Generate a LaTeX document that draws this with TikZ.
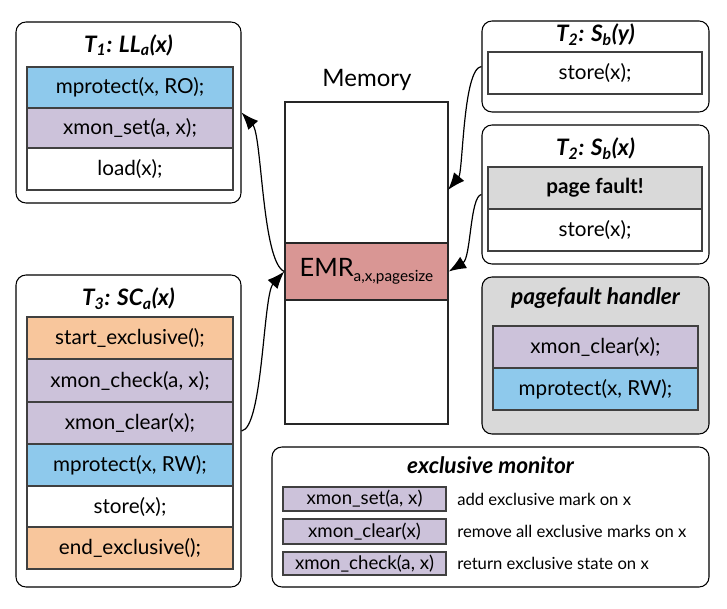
\documentclass[tikz,border=0pt]{standalone}
\usepackage{fontspec}
\setmainfont{Lato}
\usetikzlibrary{arrows.meta}
\definecolor{cblue}{RGB}{142,201,236}
\definecolor{clilac}{RGB}{204,194,218}
\definecolor{corange}{RGB}{248,198,156}
\definecolor{cgray}{RGB}{217,217,217}
\definecolor{cemr}{RGB}{217,150,148}
\tikzset{
  wh/.style 2 args={minimum width={#1*0.75pt}, minimum height={#2*0.75pt}},
  outer/.style={draw=black, rounded corners=7.5pt, line width=0.8pt, inner sep=0pt, fill=white},
  row/.style={draw=black!75, line width=0.8pt, inner sep=0pt, font=\fontsize{15.5}{18}\selectfont},
  small/.style={draw=black!75, line width=0.8pt, inner sep=0pt, fill=clilac, font=\fontsize{14}{17}\selectfont},
  desc/.style={anchor=west, inner sep=0pt, font=\fontsize{12.5}{15}\selectfont},
  title/.style={inner sep=0pt, font=\fontsize{17}{20}\selectfont\bfseries\itshape},
  arr/.style={-{Latex[length=13pt,width=10pt]}, line width=0.9pt},
}
\newcommand\emrsub[1]{\raisebox{-3.5pt}{\fontsize{11.5}{12}\selectfont #1}}
\begin{document}
\begin{tikzpicture}[x=0.75pt,y=-0.75pt]
\fill[white] (0,0) rectangle (727,609);
\useasboundingbox (0,0) rectangle (727,609);

% T1
\node[outer, wh={225}{181}] (t1) at (128.5,112.5) {};
\node[title] (t1t) at (128.5,45) {T\textsubscript{1}: LL\textsubscript{a}(x)};
\node[row, fill=cblue, wh={206}{41}] (t1a) at (130,87.5) {mprotect(x, RO);};
\node[row, fill=clilac, wh={206}{40}] (t1b) at (130,128) {xmon\_set(a, x);};
\node[row, fill=white, wh={206}{42}] (t1c) at (130,169) {load(x);};

% Memory
\node[inner sep=0pt, font=\fontsize{18}{21}\selectfont] (memlbl) at (367,80) {Memory};
\node[draw=black!85, line width=1.1pt, fill=white, wh={163}{322}, inner sep=0pt] (mem) at (366.5,263) {};
\node[draw=black!85, line width=1.1pt, fill=cemr, wh={163}{57}, inner sep=0pt, font=\fontsize{19}{22}\selectfont] (emr) at (366.5,271.5) {EMR\emrsub{a,x,pagesize}};
\coordinate (memy) at (448,190);

% T2 Sb(y)
\node[outer, wh={227}{91}] (t2y) at (595.5,66.5) {};
\node[title] (t2yt) at (595.5,35) {T\textsubscript{2}: S\textsubscript{b}(y)};
\node[row, fill=white, wh={214}{42}] (t2ya) at (595,73) {store(x);};

% T2 Sb(x)
\node[outer, wh={227}{139}] (t2x) at (595.5,194.5) {};
\node[title] (t2xt) at (595.5,149) {T\textsubscript{2}: S\textsubscript{b}(x)};
\node[row, fill=cgray, wh={214}{42}, font=\fontsize{15.5}{18}\selectfont\bfseries] (t2xa) at (595,188) {page fault!};
\node[row, fill=white, wh={214}{42}] (t2xb) at (595,230) {store(x);};

% pagefault handler
\node[outer, fill=cgray, wh={227}{157}] (pf) at (595.5,355.5) {};
\node[title] (pft) at (595.5,298) {pagefault handler};
\node[row, fill=clilac, wh={205}{42}] (pfa) at (595.5,347) {xmon\_clear(x);};
\node[row, fill=cblue, wh={205}{42}] (pfb) at (595.5,389) {mprotect(x, RW);};

% T3
\node[outer, wh={225}{312}] (t3) at (128.5,431) {};
\node[title] (t3t) at (128.5,299) {T\textsubscript{3}: SC\textsubscript{a}(x)};
\node[row, fill=corange, wh={206}{42}] (t3a) at (130,338) {start\_exclusive();};
\node[row, fill=clilac, wh={206}{43}] (t3b) at (130,380.5) {xmon\_check(a, x);};
\node[row, fill=clilac, wh={206}{42}] (t3c) at (130,423) {xmon\_clear(x);};
\node[row, fill=cblue, wh={206}{42}] (t3d) at (130,465) {mprotect(x, RW);};
\node[row, fill=white, wh={206}{41}] (t3e) at (130,506.5) {store(x);};
\node[row, fill=corange, wh={206}{42}] (t3f) at (130,548) {end\_exclusive();};

% exclusive monitor
\node[outer, wh={437}{140}] (em) at (490.5,517) {};
\node[title] (emt) at (490.5,465) {exclusive monitor};
\node[small, wh={163}{24}] (ema) at (364.5,499) {xmon\_set(a, x)};
\node[small, wh={163}{25}] (emb) at (364.5,531.5) {xmon\_clear(x)};
\node[small, wh={163}{23}] (emc) at (364.5,563.5) {xmon\_check(a, x)};
\node[desc] (emad) at (457,499) {add exclusive mark on x};
\node[desc] (embd) at (457,531.5) {remove all exclusive marks on x};
\node[desc] (emcd) at (457,563.5) {return exclusive state on x};

% connectors
\draw[arr] (emr.west) .. controls (262,262) and (262,135) .. (t1.east);
\draw[arr] (t3.east) .. controls (263,428) and (263,295) .. (emr.west);
\draw[arr] (t2y.west) .. controls (463,68) and (463,172) .. (memy);
\draw[arr] (t2x.west) .. controls (470,196) and (471,258) .. (emr.east);
\end{tikzpicture}
\end{document}
